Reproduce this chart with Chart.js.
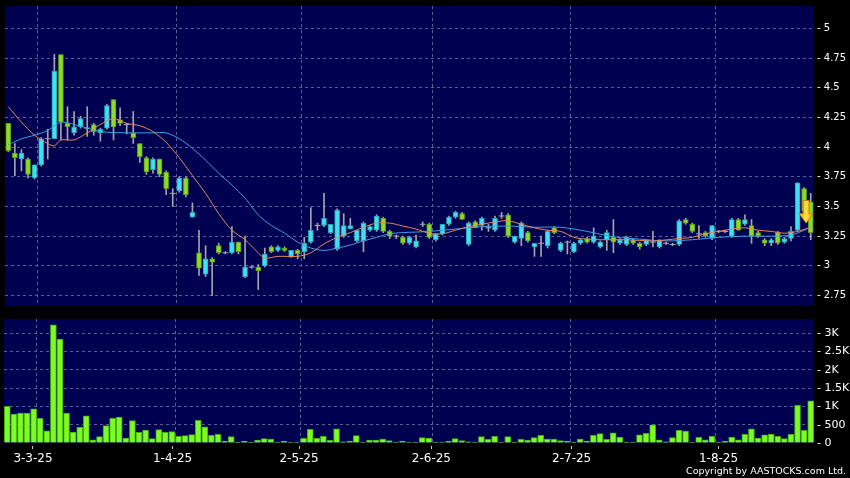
<!DOCTYPE html>
<html><head><meta charset="utf-8">
<script src="https://cdn.jsdelivr.net/npm/chart.js@4.4.1/dist/chart.umd.min.js"></script>
<style>
html,body{margin:0;padding:0;background:#000;width:850px;height:478px;overflow:hidden}
#c1{position:absolute;left:0;top:0}
#c2{position:absolute;left:0;top:312px}
#copy{position:absolute;right:4px;top:465px;color:#fff;font:9.5px "DejaVu Sans",sans-serif;white-space:nowrap;line-height:12px}
</style></head><body>
<canvas id="c1" width="850" height="312"></canvas>
<canvas id="c2" width="850" height="166"></canvas>
<div id="copy">Copyright by AASTOCKS.com Ltd.</div>
<script>
// ---------- DATA ----------
const openP  = [4.20,3.95,3.90,3.90,3.74,3.85,4.07,4.07,4.78,4.20,4.12,4.17,4.16,4.19,4.12,4.16,4.40,4.23,4.19,4.12,
                4.03,3.91,3.81,3.90,3.79,3.61,3.63,3.74,3.41,3.11,2.93,3.06,3.17,3.11,3.11,3.20,2.91,2.99,2.99,3.00,
                3.16,3.13,3.15,3.08,3.13,3.12,3.20,3.34,3.34,3.28,3.14,3.25,3.31,3.21,3.21,3.30,3.30,3.40,3.29,3.25,
                3.24,3.19,3.16,3.35,3.35,3.22,3.27,3.35,3.41,3.44,3.18,3.37,3.34,3.32,3.30,3.42,3.43,3.20,3.23,3.28,
                3.16,3.19,3.17,3.32,3.13,3.20,3.12,3.19,3.23,3.20,3.16,3.22,3.24,3.19,3.18,3.22,3.19,3.18,3.20,3.16,
                3.19,3.18,3.18,3.39,3.35,3.27,3.28,3.23,3.29,3.29,3.25,3.39,3.35,3.34,3.28,3.22,3.19,3.28,3.20,3.23,
                3.30,3.65,3.54];
const highP  = [4.20,4.03,3.98,3.91,3.85,4.08,4.15,4.78,4.78,4.34,4.30,4.26,4.34,4.20,4.16,4.36,4.40,4.33,4.20,4.30,
                4.03,3.92,3.91,3.90,3.80,3.65,3.75,3.75,3.53,3.30,3.17,3.07,3.19,3.12,3.33,3.20,3.25,3.00,3.01,3.15,
                3.17,3.17,3.16,3.13,3.14,3.24,3.49,3.36,3.61,3.35,3.48,3.44,3.40,3.30,3.37,3.34,3.43,3.41,3.30,3.26,
                3.25,3.25,3.26,3.37,3.36,3.27,3.35,3.42,3.46,3.45,3.37,3.38,3.41,3.35,3.42,3.45,3.44,3.25,3.37,3.29,
                3.19,3.25,3.30,3.33,3.20,3.21,3.20,3.23,3.24,3.32,3.21,3.30,3.39,3.23,3.25,3.23,3.20,3.22,3.29,3.22,
                3.20,3.19,3.39,3.40,3.36,3.34,3.29,3.34,3.30,3.30,3.40,3.40,3.43,3.39,3.29,3.23,3.23,3.29,3.24,3.33,
                3.70,3.66,3.61];
const lowP   = [3.96,3.76,3.80,3.74,3.73,3.84,3.90,4.07,4.06,4.06,4.10,4.16,4.09,4.10,4.05,4.15,4.06,4.18,4.11,4.03,
                3.87,3.77,3.78,3.75,3.60,3.50,3.62,3.58,3.41,2.92,2.91,2.75,3.10,3.10,3.10,3.10,2.90,2.98,2.80,2.99,
                3.11,3.12,3.12,3.07,3.06,3.06,3.19,3.30,3.33,3.27,3.13,3.24,3.31,3.20,3.12,3.29,3.29,3.28,3.23,3.23,
                3.18,3.18,3.15,3.33,3.23,3.21,3.26,3.34,3.40,3.39,3.17,3.32,3.30,3.29,3.29,3.40,3.24,3.19,3.17,3.20,
                3.08,3.08,3.15,3.27,3.12,3.10,3.11,3.18,3.19,3.19,3.15,3.13,3.11,3.18,3.17,3.18,3.14,3.17,3.16,3.15,
                3.18,3.17,3.17,3.35,3.28,3.23,3.24,3.22,3.28,3.28,3.24,3.30,3.34,3.19,3.24,3.17,3.17,3.18,3.19,3.21,
                3.29,3.44,3.22];
const closeP = [3.97,3.91,3.95,3.77,3.85,4.07,4.07,4.64,4.21,4.17,4.17,4.24,4.16,4.13,4.15,4.35,4.17,4.20,4.19,4.08,
                3.92,3.79,3.90,3.77,3.65,3.61,3.74,3.60,3.45,2.98,3.06,3.03,3.11,3.11,3.20,3.12,2.99,2.99,2.96,3.10,
                3.12,3.16,3.13,3.13,3.10,3.19,3.30,3.34,3.40,3.35,3.47,3.34,3.34,3.30,3.36,3.33,3.42,3.29,3.25,3.25,
                3.19,3.24,3.21,3.35,3.24,3.27,3.35,3.41,3.45,3.39,3.36,3.32,3.40,3.32,3.40,3.42,3.25,3.25,3.36,3.21,
                3.19,3.19,3.29,3.28,3.19,3.20,3.19,3.22,3.20,3.25,3.20,3.28,3.20,3.22,3.24,3.19,3.16,3.22,3.20,3.22,
                3.19,3.18,3.38,3.36,3.29,3.27,3.25,3.34,3.29,3.29,3.39,3.30,3.39,3.25,3.25,3.19,3.22,3.19,3.23,3.29,
                3.70,3.46,3.28];
const volume = [1000,790,820,820,935,675,330,3230,2840,820,300,435,745,90,175,475,675,710,135,610,
                290,355,120,365,290,310,180,200,230,620,445,210,235,45,175,20,45,10,80,120,
                110,25,45,20,25,125,375,125,180,75,390,35,55,200,25,80,80,110,65,25,
                55,25,25,145,135,25,25,45,120,65,35,25,175,100,180,25,175,25,100,80,
                145,210,110,110,65,55,20,110,55,210,255,100,275,165,20,20,220,265,500,90,
                35,145,345,325,25,155,90,180,20,45,165,90,235,390,135,225,245,180,120,235,
                1030,345,1155];
// moving averages, read at selected candles (index, value)
const ma10Idx = [0,2,4,6,7,8,10,12,14,16,18,20,22,24,26,28,30,32,34,36,38,39,41,44,46,48,50,52,54,56,58,60,62,64,66,68,70,72,74,76,78,80,82,84,86,88,90,94,98,102,104,106,108,110,112,114,116,118,120,122];
const ma10Val = [4.34,4.21,4.10,4.03,4.01,4.06,4.06,4.12,4.19,4.24,4.20,4.18,4.13,4.04,3.91,3.76,3.61,3.44,3.30,3.22,3.11,3.065,3.08,3.08,3.11,3.185,3.24,3.28,3.325,3.36,3.36,3.335,3.31,3.275,3.27,3.30,3.33,3.35,3.37,3.38,3.35,3.32,3.30,3.29,3.24,3.225,3.22,3.22,3.21,3.23,3.24,3.27,3.29,3.31,3.32,3.30,3.29,3.275,3.29,3.325];
const ma20Idx = [0,2,4,6,8,10,12,14,18,22,24,26,28,30,32,34,36,38,40,42,44,46,48,50,52,54,56,58,60,64,68,72,76,80,84,88,92,96,100,104,108,112,116,119,121,122];
const ma20Val = [4.02,4.07,4.10,4.14,4.21,4.19,4.16,4.13,4.12,4.12,4.12,4.07,3.99,3.89,3.78,3.68,3.57,3.43,3.34,3.275,3.20,3.15,3.13,3.15,3.175,3.21,3.24,3.27,3.28,3.29,3.31,3.33,3.335,3.325,3.325,3.29,3.245,3.225,3.21,3.22,3.24,3.25,3.25,3.26,3.30,3.33];
const priceTicks = [2.75,3,3.25,3.5,3.75,4,4.25,4.5,4.75,5];
const volTicks   = [0,500,1000,1500,2000,2500,3000];
const dateLabels = ['3-3-25','1-4-25','2-5-25','2-6-25','2-7-25','1-8-25'];
const dateLabelPos = [3.9,25.1,44.3,64.4,85.7,108.0];
const dateGridPos  = [4.4,25.6,44.55,64.5,85.55,107.6];
const signal = {x:121.3, top:3.55, neck:3.44, tip:3.36};

// ---------- STYLE ----------
const NAVY='#000050', GRID='#5c5c96', CYAN='#40e0f0', CYAN_B='#2aa0b4', GREEN='#8cdc28', GREEN_B='#5c9c18',
      WICK='#a4a4ac', ORANGE='#e8865a', BLUE='#3ca0e4', VOL='#7cfc24', VOL_B='#46a814', TXT='#ffffff';
Chart.defaults.font.family = '"DejaVu Sans", sans-serif';
Chart.defaults.animation = false;

const N = openP.length;
const wicks=[], upB=[], dnB=[], doji=[];
for (let i=0;i<N;i++){
  const o=openP[i], c=closeP[i];
  wicks.push({x:i,y:[lowP[i],highP[i]]});
  if (c>o) upB.push({x:i,y:[o,c]});
  else if (c<o) dnB.push({x:i,y:[c,o]});
  else doji.push({x:i,y:c});
}
const bg = {id:'bg', beforeDraw(ch){const {ctx,chartArea:a}=ch;ctx.save();ctx.fillStyle=NAVY;ctx.fillRect(a.left,a.top,a.right-a.left,a.bottom-a.top);ctx.restore();}};
const arrow = {id:'arrow', afterDatasetsDraw(ch){
  const {ctx,scales:{x,y}}=ch;
  const cx=x.getPixelForValue(signal.x), t=y.getPixelForValue(signal.top), n=y.getPixelForValue(signal.neck), p=y.getPixelForValue(signal.tip);
  const sw=3, hw=7;
  ctx.save();
  ctx.beginPath();
  ctx.moveTo(cx-sw,t);ctx.lineTo(cx+sw,t);ctx.lineTo(cx+sw,n);ctx.lineTo(cx+hw,n);ctx.lineTo(cx,p);ctx.lineTo(cx-hw,n);ctx.lineTo(cx-sw,n);ctx.closePath();
  const g=ctx.createLinearGradient(cx-hw,0,cx+hw,0);g.addColorStop(0,'#f0a818');g.addColorStop(0.5,'#ffe040');g.addColorStop(1,'#f0a818');
  ctx.fillStyle=g;ctx.fill();ctx.strokeStyle='#c87a10';ctx.lineWidth=1;ctx.stroke();
  ctx.restore();
}};
const fmt = v => String(Number(v.toFixed(2)));
const noPad = s => { s.paddingTop=0; s.paddingBottom=0; s.paddingLeft=0; s.paddingRight=0; };
const xBase = {type:'linear', min:-0.5, max:N-0.5, offset:false, bounds:'ticks'};

new Chart(document.getElementById('c1'), {
  type:'bar',
  data:{datasets:[
    {type:'line', data:ma10Idx.map((x,k)=>({x,y:ma10Val[k]})), borderColor:ORANGE, borderWidth:1, pointRadius:0, tension:0.3, order:0},
    {type:'line', data:ma20Idx.map((x,k)=>({x,y:ma20Val[k]})), borderColor:BLUE, borderWidth:1, pointRadius:0, tension:0.3, order:0},
    {type:'line', data:doji, showLine:false, pointStyle:'line', pointRadius:3, pointBorderColor:WICK, pointBorderWidth:1, borderColor:WICK, order:1},
    {type:'bar', data:upB, backgroundColor:CYAN, borderColor:CYAN_B, borderWidth:1, borderSkipped:false, barThickness:5, grouped:false, order:2},
    {type:'bar', data:dnB, backgroundColor:GREEN, borderColor:GREEN_B, borderWidth:1, borderSkipped:false, barThickness:5, grouped:false, order:2},
    {type:'bar', data:wicks, backgroundColor:WICK, borderWidth:0, barThickness:1, grouped:false, order:3}
  ]},
  options:{
    responsive:false, devicePixelRatio:1,
    layout:{padding:{left:4,top:6,bottom:6,right:0}},
    plugins:{legend:{display:false}, tooltip:{enabled:false}},
    scales:{
      x:{...xBase, afterBuildTicks:s=>{s.ticks=dateGridPos.map(v=>({value:v}));},
         ticks:{display:false}, grid:{color:GRID, drawTicks:false, offset:false}, border:{display:false, dash:[3,3]},
         afterFit:s=>{s.height=0; noPad(s);}},
      y:{type:'linear', position:'right', min:2.662, max:5.188, offset:false,
         afterBuildTicks:s=>{s.ticks=priceTicks.map(v=>({value:v}));},
         ticks:{color:TXT, font:{size:10}, padding:3, callback:v=>'- '+fmt(v)},
         grid:{color:GRID, drawTicks:false}, border:{display:false, dash:[3,3]},
         afterFit:s=>{s.width=36; noPad(s);}}
    }
  },
  plugins:[bg, arrow]
});

new Chart(document.getElementById('c2'), {
  type:'bar',
  data:{datasets:[
    {data:volume.map((v,i)=>({x:i,y:v})), backgroundColor:VOL, borderColor:VOL_B, borderWidth:1, borderSkipped:'bottom', barThickness:6, grouped:false}
  ]},
  options:{
    responsive:false, devicePixelRatio:1,
    layout:{padding:{left:4,top:7,bottom:0,right:0}},
    plugins:{legend:{display:false}, tooltip:{enabled:false}},
    scales:{
      x:{...xBase, position:'bottom', afterBuildTicks:s=>{s.ticks=dateLabelPos.map(v=>({value:v}));},
         ticks:{color:TXT, font:{size:12}, padding:3, maxRotation:0, autoSkip:false, callback:(v,k)=>dateLabels[k]},
         grid:{offset:false, drawOnChartArea:false, drawTicks:true, tickLength:6, tickColor:'#c8c8c8', tickBorderDash:[0,3,3]},
         border:{display:false}, afterFit:s=>{s.height=35; noPad(s);}},
      xg:{...xBase, position:'bottom', afterBuildTicks:s=>{s.ticks=dateGridPos.map(v=>({value:v}));},
         ticks:{display:false}, grid:{offset:false, color:GRID, drawTicks:false}, border:{display:false, dash:[3,3]},
         afterFit:s=>{s.height=0; noPad(s);}},
      y:{type:'linear', position:'right', min:0, max:3390, offset:false,
         afterBuildTicks:s=>{s.ticks=volTicks.map(v=>({value:v}));},
         ticks:{color:TXT, font:{size:11}, padding:3, callback:v=>'- '+(v>=1000?fmt(v/1000)+'K':String(v))},
         grid:{color:c=>c.tick&&c.tick.value===0?'rgba(0,0,0,0)':GRID, drawTicks:false}, border:{display:false, dash:[3,3]},
         afterFit:s=>{s.width=36; noPad(s);}}
    }
  },
  plugins:[bg]
});
</script></body></html>
